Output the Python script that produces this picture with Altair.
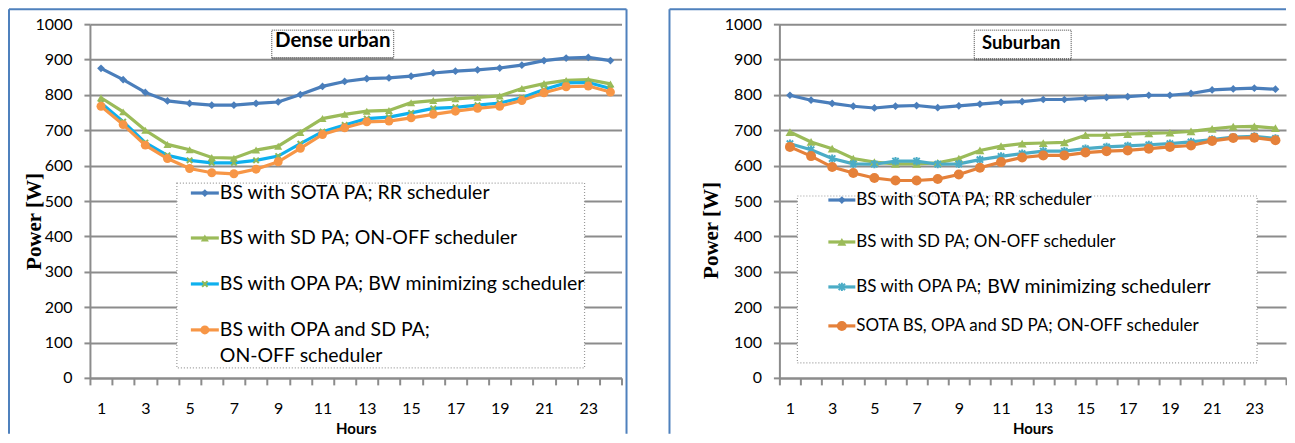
import altair as alt
import pandas as pd

hours = list(range(1, 25))

# Dense urban
dense_sota = [875, 843, 807, 783, 776, 771, 771, 776, 780, 801, 824, 838, 846, 848, 853, 862, 867, 871, 876, 884, 897, 904, 906, 897]
dense_sd = [792, 752, 700, 660, 645, 623, 621, 644, 655, 694, 733, 745, 754, 756, 778, 784, 789, 793, 797, 818, 832, 841, 843, 831]
dense_opa = [777, 724, 665, 629, 615, 608, 608, 615, 627, 662, 696, 715, 733, 737, 749, 762, 765, 771, 777, 792, 815, 834, 835, 818]
dense_combo = [768, 716, 658, 620, 592, 580, 577, 590, 611, 649, 688, 707, 724, 726, 735, 745, 754, 762, 768, 784, 806, 823, 825, 808]

# Suburban
sub_sota = [799, 785, 776, 768, 763, 768, 770, 764, 769, 774, 779, 781, 787, 787, 790, 793, 795, 799, 799, 804, 814, 817, 819, 816]
sub_sd = [695, 667, 648, 620, 610, 605, 605, 608, 620, 643, 655, 662, 664, 666, 686, 686, 689, 691, 693, 697, 704, 710, 711, 706]
sub_opa = [662, 645, 620, 605, 604, 613, 613, 604, 605, 617, 626, 634, 641, 641, 648, 653, 656, 659, 662, 667, 674, 681, 683, 677]
sub_combo = [653, 627, 596, 579, 565, 558, 558, 562, 575, 594, 610, 623, 629, 629, 637, 641, 643, 648, 653, 657, 670, 678, 679, 672]

dense_series = ["BS with SOTA PA; RR scheduler", "BS with SD PA; ON-OFF scheduler",
                "BS with OPA PA; BW minimizing scheduler", "BS with OPA and SD PA; ON-OFF scheduler"]
sub_series = ["BS with SOTA PA; RR scheduler", "BS with SD PA; ON-OFF scheduler",
              "BS with OPA PA; BW minimizing schedulerr", "SOTA BS, OPA and SD PA; ON-OFF scheduler"]

# legend text pieces: (text, font size, dx, dy)
dense_legend_text = [
    [("BS with SOTA PA; RR scheduler", 19.5, 0, 0)],
    [("BS with SD PA; ON-OFF scheduler", 19.5, 0, 0)],
    [("BS with OPA PA; BW minimizing scheduler", 19.5, 0, 0)],
    [("BS with OPA and SD PA;", 19.5, 0, 0), ("ON-OFF scheduler", 19.5, 0, 26)],
]
sub_legend_text = [
    [("BS with SOTA PA; RR scheduler", 17, 0, 0)],
    [("BS with SD PA; ON-OFF scheduler", 17, 0, 0)],
    [("BS with OPA PA;", 17, 0, 0), ("BW minimizing schedulerr", 19.5, 131, 0)],
    [("SOTA BS, OPA and SD PA; ON-OFF scheduler", 17, 0, 0)],
]

ASTERISK = "M-1,-1L1,1M-1,1L1,-1M0,-1.3L0,1.3"
XMARK = "M-1,-1L1,1M-1,1L1,-1"

FONT = "Lato"
BORDER = "#4F81BD"
GRID = "#8c8c8c"
H = 354


def panel(title, title_size, names, series_vals, legend_text, line_colors, marker_colors,
          shapes, filled, sizes, width, lay):
    rows = []
    for name, vals in zip(names, series_vals):
        for h, v in zip(hours, vals):
            rows.append({"hour": h, "series": name, "power": v})
    df = pd.DataFrame(rows)
    one = pd.DataFrame({"k": [0]})

    x_enc = alt.X(
        "hour:O",
        scale=alt.Scale(type="band", paddingInner=0, paddingOuter=0),
        axis=alt.Axis(
            title="Hours", labelAngle=0, tickBand="extent", grid=False,
            labelExpr="datum.value % 2 == 1 ? datum.label : ''",
            labelFont=FONT, labelFontSize=16, labelPadding=16, tickSize=7,
            titleFont=FONT, titleFontSize=15, titleFontWeight="bold", titlePadding=5,
            domainColor=GRID, tickColor=GRID, domainWidth=2, tickWidth=2,
        ),
    )
    y_enc = alt.Y(
        "power:Q",
        scale=alt.Scale(domain=[0, 1000], nice=False),
        axis=alt.Axis(
            values=list(range(0, 1001, 100)), format="d", title="Power [W]",
            labelFont=FONT, labelFontSize=16, labelPadding=12, tickSize=6,
            titleFont="Liberation Serif", titleFontSize=21, titleFontWeight="bold",
            titleAngle=-90, titleAlign="center", titleBaseline="middle",
            titleX=lay["ytx"], titleY=lay["yty"],
            grid=True, gridColor=GRID, gridWidth=2,
            domainColor=GRID, tickColor=GRID, domainWidth=2, tickWidth=2,
        ),
    )

    layers = []
    # outer frame (left, top, right)
    layers.append(alt.Chart(one).mark_rule(color=BORDER, strokeWidth=2).encode(
        x=alt.value(lay["bl"]), y=alt.value(-15), y2=alt.value(410)))
    layers.append(alt.Chart(one).mark_rule(color=BORDER, strokeWidth=2).encode(
        x=alt.value(lay["bl"]), x2=alt.value(lay["br"]), y=alt.value(-15)))
    if lay.get("draw_right", True):
        layers.append(alt.Chart(one).mark_rule(color=BORDER, strokeWidth=2).encode(
            x=alt.value(lay["br"]), y=alt.value(-15), y2=alt.value(410)))

    # legend box
    layers.append(alt.Chart(one).mark_rect(
        fill="white", stroke="#9a9a9a", strokeDash=[1, 2], strokeWidth=1.2).encode(
        x=alt.value(lay["lx0"]), x2=alt.value(lay["lx1"]),
        y=alt.value(lay["ly0"]), y2=alt.value(lay["ly1"])))

    # title box
    layers.append(alt.Chart(one).mark_rect(
        fill="white", stroke="#444", strokeDash=[1, 1], strokeWidth=1).encode(
        x=alt.value(lay["tx0"]), x2=alt.value(lay["tx1"]),
        y=alt.value(6), y2=alt.value(lay["ty1"])))
    layers.append(alt.Chart(one).mark_rule(
        color="#666", strokeDash=[1, 1], strokeWidth=2.5).encode(
        x=alt.value(lay["tx0"]), x2=alt.value(lay["tx1"]), y=alt.value(lay["ty1"])))
    layers.append(alt.Chart(one).mark_text(
        text=title, font=FONT, fontSize=title_size, fontWeight="bold", align="center",
        baseline="middle", color="black").encode(
        x=alt.value(lay["tcx"]), y=alt.value(lay["tcy"])))

    base = alt.Chart(df)
    for i, name in enumerate(names):
        layers.append(base.transform_filter(alt.datum.series == name).mark_line(
            color=line_colors[i], strokeWidth=3.2).encode(x=x_enc, y=y_enc))
    for i, name in enumerate(names):
        layers.append(base.transform_filter(alt.datum.series == name).mark_point(
            shape=shapes[i], filled=filled[i], color=marker_colors[i], size=sizes[i],
            strokeWidth=2, opacity=1).encode(x=x_enc, y=y_enc))

    # legend entries
    for i, pieces in enumerate(legend_text):
        yy = lay["rows"][i]
        layers.append(alt.Chart(one).mark_rule(color=line_colors[i], strokeWidth=3.2).encode(
            x=alt.value(lay["sx0"]), x2=alt.value(lay["sx1"]), y=alt.value(yy)))
        layers.append(alt.Chart(one).mark_point(
            shape=shapes[i], filled=filled[i], color=marker_colors[i], size=sizes[i],
            strokeWidth=2, opacity=1).encode(
            x=alt.value((lay["sx0"] + lay["sx1"]) / 2), y=alt.value(yy)))
        for text, fs, dx, dy in pieces:
            layers.append(alt.Chart(one).mark_text(
                text=text, font=FONT, fontSize=fs, align="left",
                baseline="middle", color="black").encode(
                x=alt.value(lay["sx1"] + 1 + dx), y=alt.value(yy + dy)))

    return alt.layer(*layers).properties(width=width, height=H)


left = panel(
    "Dense urban", 20.5,
    dense_series,
    [dense_sota, dense_sd, dense_opa, dense_combo],
    dense_legend_text,
    ["#4A7EBB", "#9BBB59", "#0EB0EE", "#F79646"],
    ["#4A7EBB", "#9BBB59", "#8DB85A", "#F79646"],
    ["diamond", "triangle-up", XMARK, "circle"],
    [True, True, False, True],
    [60, 65, 30, 80],
    532,
    dict(bl=-81, br=537, ytx=-55, yty=197,
         lx0=87, lx1=495, ly0=159, ly1=344,
         tx0=182, tx1=304, ty1=34, tcx=243, tcy=17,
         rows=[169, 214, 260, 306], sx0=101, sx1=129),
)

right = panel(
    "Suburban", 18.5,
    sub_series,
    [sub_sota, sub_sd, sub_opa, sub_combo],
    sub_legend_text,
    ["#4A7EBB", "#9BBB59", "#4BACC6", "#E5813A"],
    ["#4A7EBB", "#9BBB59", "#4BACC6", "#E5813A"],
    ["diamond", "triangle-up", ASTERISK, "circle"],
    [True, True, False, True],
    [60, 80, 40, 100],
    507,
    dict(bl=-110, br=507, draw_right=False, ytx=-68, yty=206,
         lx0=18, lx1=478, ly0=172, ly1=339,
         tx0=195, tx1=292, ty1=35, tcx=242, tcy=19,
         rows=[176, 218, 263, 302], sx0=49, sx1=76),
)

chart = alt.hconcat(left, right, spacing=41).properties(padding=0).configure_view(stroke=None)

chart.save("out.html", embed_options={"renderer": "svg", "actions": False})
